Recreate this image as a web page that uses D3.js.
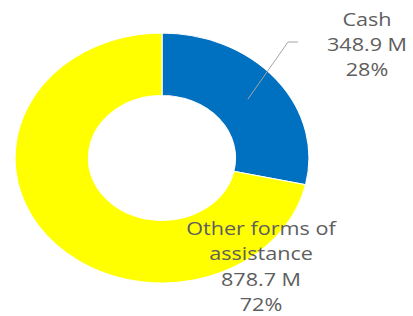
<!DOCTYPE html>
<html><head><meta charset="utf-8">
<script src="https://cdn.jsdelivr.net/npm/d3@7"></script>
<style>html,body{margin:0;padding:0;background:#fff;}svg{display:block;}</style>
</head><body>
<svg id="chart" width="413" height="316"></svg>
<script>
const categories = ["Cash", "Other forms of assistance"];
const values = [348.9, 878.7];
const valueLabels = ["348.9 M", "878.7 M"];
const percentLabels = ["28%", "72%"];
const colors = ["#0070c0", "#ffff00"];

const svg = d3.select("#chart");
const cx = 162, cy = 158, R = 125, sx = 1.176;
const pie = d3.pie().sort(null).value(d => d)(values);
const arc = d3.arc().innerRadius(R * 0.5).outerRadius(R);

const g = svg.append("g").attr("transform", `translate(${cx},${cy}) scale(${sx},1)`);
g.selectAll("path").data(pie).join("path")
  .attr("d", arc)
  .attr("fill", (d, i) => colors[i])
  .attr("stroke", "#fff").attr("stroke-width", 1);

// leader line for Cash
const mid = d3.arc().innerRadius(R * 0.75).outerRadius(R * 0.75).centroid(pie[0]);
const p0 = [cx + mid[0] * sx, cy + mid[1]];
svg.append("polyline")
  .attr("points", [p0, [288, 42], [298, 42]].map(p => p.join(",")).join(" "))
  .attr("fill", "none").attr("stroke", "#a6a6a6").attr("stroke-width", 1);

const font = "'Open Sans', sans-serif";
function label(x, y0, lines, dy) {
  const t = svg.append("text").attr("text-anchor", "middle")
    .attr("font-family", font).attr("font-size", 18).attr("fill", "#5e5e5e")
    .attr("transform", `translate(${x},0) scale(1.2,1)`);
  lines.forEach((s, i) => t.append("tspan").attr("x", 0).attr("y", y0 + i * dy).text(s));
}
label(367, 26, [categories[0], valueLabels[0], percentLabels[0]], 25);
label(261, 235, ["Other forms of", "assistance", valueLabels[1], percentLabels[1]], 25.3);
</script>
</body></html>
